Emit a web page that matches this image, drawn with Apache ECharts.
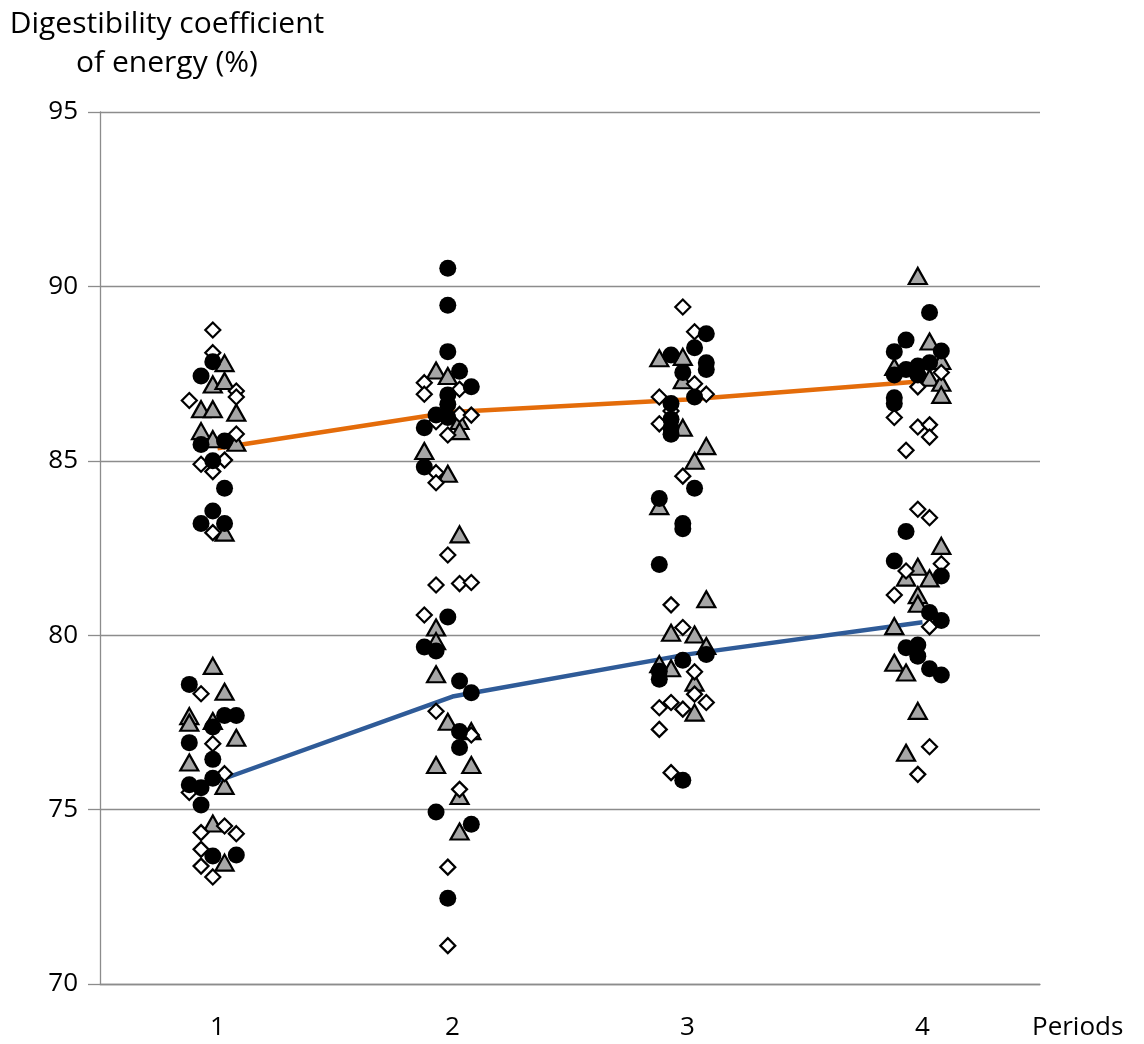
<!DOCTYPE html>
<html>
<head>
<meta charset="utf-8">
<script src="https://cdn.jsdelivr.net/npm/echarts@6/dist/echarts.min.js"></script>
<style>
  html, body { margin: 0; padding: 0; background: #fff; }
  #chart { width: 1144px; height: 1044px; }
</style>
</head>
<body>
<div id="chart"></div>
<script>
// Period positions and tick labels
const periods = [1, 2, 3, 4];
const yTicks = [70, 75, 80, 85, 90, 95];

// Mean lines (values at each period)
const upperMeans = [85.36, 86.40, 86.76, 87.28];
const lowerMeans = [75.82, 78.24, 79.45, 80.37];

// Individual observations: [period (with jitter as read), value]
const circlePoints = [
  [0.98,87.84],[0.93,87.43],[1.03,85.57],[0.93,85.47],[0.98,85.0],[1.03,84.21],[0.98,83.56],[0.93,83.2],[1.03,83.2],
  [0.88,78.59],[0.98,77.37],[1.03,77.7],[1.08,77.7],[0.88,76.92],[0.98,76.44],[0.98,75.9],[0.88,75.71],[0.93,75.63],[0.93,75.13],[0.98,73.67],[1.08,73.7],
  [1.98,90.52],[1.98,89.46],[1.98,88.13],[2.03,87.57],[2.08,87.12],[1.98,86.89],[1.98,86.62],[1.93,86.31],[1.98,86.24],[1.88,85.95],[1.88,84.82],
  [1.98,80.52],[1.88,79.66],[1.93,79.55],[2.03,78.69],[2.08,78.35],[2.03,77.24],[2.03,76.78],[1.93,74.93],[2.08,74.58],[1.98,72.46],
  [3.08,88.64],[3.03,88.24],[2.93,88.03],[3.08,87.81],[3.08,87.62],[2.98,87.53],[3.03,86.83],[2.93,86.64],[2.93,86.19],[2.93,85.95],[2.93,85.76],[3.03,84.21],[2.88,83.92],[2.98,83.2],[2.98,83.05],[2.88,82.03],
  [3.08,79.45],[2.98,79.28],[2.88,78.97],[2.88,78.74],[2.98,75.84],
  [4.03,89.25],[3.93,88.46],[3.88,88.13],[4.08,88.15],[4.03,87.81],[3.98,87.72],[3.93,87.62],[3.88,87.46],[3.98,87.46],[3.88,86.81],[3.88,86.64],
  [3.93,82.97],[3.88,82.13],[4.08,81.7],[4.03,80.65],[4.08,80.42],[3.93,79.64],[3.98,79.72],[3.98,79.4],[4.03,79.04],[4.08,78.86]
];
const trianglePoints = [
  [1.03,87.8],[0.98,87.19],[1.03,87.29],[0.93,86.48],[0.98,86.48],[1.08,86.38],[0.93,85.85],[0.98,85.62],[1.08,85.52],[1.03,82.94],
  [0.98,79.12],[1.03,78.38],[0.88,77.68],[0.88,77.49],[0.98,77.54],[1.08,77.06],[0.88,76.35],[1.03,75.68],[0.98,74.6],[1.03,73.48],
  [1.93,87.59],[1.98,87.43],[2.03,86.14],[2.03,85.85],[1.88,85.28],[1.98,84.63],[2.03,82.89],[1.93,80.22],[1.93,79.83],[1.93,78.88],[1.98,77.52],[2.08,77.25],[1.93,76.28],[2.08,76.28],[2.03,75.39],[2.03,74.37],
  [2.88,87.94],[2.98,87.98],[2.98,87.31],[2.98,85.95],[3.08,85.42],[3.03,85.0],[2.88,83.7],[3.08,81.03],[2.93,80.07],[3.03,80.02],[3.08,79.69],[2.88,79.17],[2.93,79.05],[3.03,78.64],[3.03,77.78],
  [3.98,90.3],[4.03,88.42],[4.08,87.86],[3.88,87.69],[4.03,87.38],[4.08,87.24],[4.08,86.89],[4.08,82.56],[3.98,81.96],[3.93,81.65],[4.03,81.63],[3.98,81.15],[3.98,80.9],[3.88,80.26],[3.88,79.21],[3.93,78.93],[3.98,77.83],[3.93,76.63]
];
const diamondPoints = [
  [0.98,88.75],[0.98,88.1],[1.08,87.0],[1.08,86.83],[0.88,86.73],[1.08,85.77],[0.93,84.9],[1.03,85.02],[0.98,84.69],[0.98,82.94],
  [0.93,78.32],[0.98,76.89],[1.03,76.03],[0.88,75.49],[0.93,74.34],[1.03,74.53],[1.08,74.31],[0.93,73.86],[0.93,73.38],[0.98,73.07],
  [1.88,87.24],[1.88,86.91],[2.03,87.05],[2.03,86.33],[2.08,86.31],[1.93,86.12],[1.98,85.74],[1.93,84.66],[1.93,84.37],[1.98,82.3],[1.93,81.44],[2.03,81.48],[2.08,81.51],[1.88,80.58],[1.93,77.82],[2.08,77.14],[2.03,75.58],[1.98,73.35],[1.98,71.1],
  [2.98,89.41],[3.03,88.7],[3.03,87.21],[3.08,86.91],[2.88,86.83],[2.93,86.43],[2.88,86.06],[2.98,84.56],[2.93,80.87],[2.98,80.22],[3.03,78.95],[3.03,78.31],[2.93,78.07],[3.08,78.07],[2.88,77.92],[2.98,77.88],[2.88,77.3],[2.93,76.06],
  [4.08,87.53],[3.98,87.12],[3.88,86.24],[3.98,85.97],[4.03,86.03],[4.03,85.68],[3.93,85.3],[3.98,83.61],[4.03,83.37],[4.08,82.05],[3.93,81.84],[3.88,81.15],[4.03,80.24],[4.03,76.8],[3.98,76.01]
];

const FONT = '"Open Sans", "Noto Sans", sans-serif';
const chart = echarts.init(document.getElementById('chart'), null, { renderer: 'canvas' });

chart.setOption({
  backgroundColor: '#ffffff',
  animation: false,
  title: {
    text: 'Digestibility coefficient\nof energy (%)',
    left: 162,
    top: 0,
    textAlign: 'center',
    textStyle: { fontFamily: FONT, fontSize: 30, fontWeight: 'normal', color: '#000', lineHeight: 39 }
  },
  grid: { left: 100, right: 104, top: 112, bottom: 60, containLabel: false },
  xAxis: {
    type: 'value',
    min: 0.5, max: 4.5, interval: 0.5,
    name: 'Periods',
    nameLocation: 'end',
    nameGap: -8,
    nameTextStyle: { fontFamily: FONT, fontSize: 26, color: '#000', align: 'left', verticalAlign: 'top', padding: [31, 0, 0, 0] },
    axisLine: { show: true, lineStyle: { color: '#8c8c8c', width: 1.3 } },
    axisTick: { show: false },
    splitLine: { show: false },
    axisLabel: {
      fontFamily: FONT, fontSize: 26, color: '#000', margin: 31,
      formatter: v => (periods.indexOf(v) >= 0 ? String(v) : '')
    }
  },
  yAxis: {
    type: 'value',
    min: yTicks[0], max: yTicks[yTicks.length - 1], interval: 5,
    axisLine: { show: true, lineStyle: { color: '#8c8c8c', width: 1.3 } },
    axisTick: { show: true, length: 12, lineStyle: { color: '#8c8c8c', width: 1.3 } },
    splitLine: { show: true, lineStyle: { color: '#8c8c8c', width: 1.3 } },
    axisLabel: { fontFamily: FONT, fontSize: 26, color: '#000', margin: 22 }
  },
  series: [
    {
      type: 'line', data: periods.map((p, i) => [p, upperMeans[i]]),
      showSymbol: false, lineStyle: { color: '#E46C0A', width: 4.5 }, z: 1
    },
    {
      type: 'line', data: periods.map((p, i) => [p, lowerMeans[i]]),
      showSymbol: false, lineStyle: { color: '#2F5B98', width: 4.5 }, z: 1
    },
    {
      type: 'scatter', data: trianglePoints, symbol: 'triangle', symbolSize: [18, 16],
      itemStyle: { color: '#a6a6a6', borderColor: '#000', borderWidth: 2.2, opacity: 1 }, z: 2
    },
    {
      type: 'scatter', data: diamondPoints, symbol: 'diamond', symbolSize: 15,
      itemStyle: { color: '#ffffff', borderColor: '#000', borderWidth: 2.2, opacity: 1 }, z: 3
    },
    {
      type: 'scatter', data: circlePoints, symbol: 'circle', symbolSize: 17,
      itemStyle: { color: '#000', borderColor: '#000', borderWidth: 0, opacity: 1 }, z: 4
    }
  ]
});
</script>
</body>
</html>
